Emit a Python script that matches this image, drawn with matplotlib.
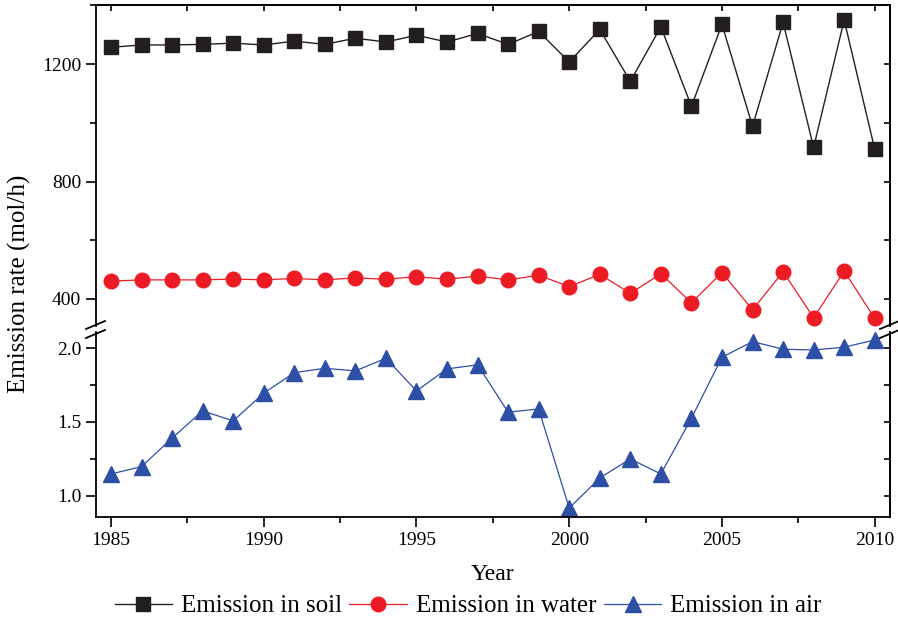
import matplotlib
matplotlib.use("Agg")
import matplotlib.pyplot as plt
from matplotlib.lines import Line2D
from matplotlib.ticker import MultipleLocator
import numpy as np

plt.rcParams['font.family'] = ['Liberation Serif', 'DejaVu Serif']

years = np.arange(1985, 2011)
soil = [1257, 1265, 1265, 1267, 1271, 1265, 1278, 1267, 1288, 1275, 1298, 1275, 1304,
        1267, 1311, 1207, 1318, 1141, 1327, 1056, 1335, 988, 1342, 916, 1350, 910]
water = [461, 465, 465, 465, 468, 465, 470, 465, 472, 467, 476, 467, 478,
         465, 481, 442, 484, 419, 486, 387, 490, 363, 493, 336, 495, 334]
air = [1.147, 1.197, 1.39, 1.575, 1.507, 1.695, 1.834, 1.864, 1.846, 1.932, 1.71, 1.86, 1.887,
       1.566, 1.588, 0.915, 1.12, 1.249, 1.147, 1.525, 1.939, 2.045, 1.993, 1.988, 2.007, 2.056]

c_soil = '#231f20'
c_water = '#ed1c24'
c_air = '#2e4fa6'

W, H = 898, 621
fig = plt.figure(figsize=(W / 100, H / 100), dpi=100)

L, R = 95.7 / W, 890 / W
ax_top = fig.add_axes([L, 1 - 326 / H, R - L, (326 - 5.3) / H])
ax_bot = fig.add_axes([L, 1 - 517.3 / H, R - L, (517.3 - 332) / H])

ax_top.plot(years, soil, '-s', color=c_soil, lw=1.0, ms=9.5, label='Emission in soil')
ax_top.plot(years, water, '-o', color=c_water, lw=0.9, ms=10.5, label='Emission in water')
ax_bot.plot(years, air, '-^', color=c_air, lw=0.9, ms=11, label='Emission in air')

for ax in (ax_top, ax_bot):
    ax.set_xlim(1984.5, 2010.5)
    ax.xaxis.set_major_locator(MultipleLocator(5))
    ax.xaxis.set_minor_locator(MultipleLocator(2.5))
    for s in ax.spines.values():
        s.set_linewidth(1.3)
    ax.tick_params(which='both', direction='out', width=1.2, labelsize=14)
    ax.tick_params(which='major', length=7)
    ax.tick_params(which='minor', length=4)

ax_top.set_ylim(308, 1400)
ax_top.yaxis.set_major_locator(MultipleLocator(400))
ax_top.yaxis.set_minor_locator(MultipleLocator(200))
ax_top.spines['bottom'].set_visible(False)
ax_top.tick_params(axis='x', which='both', bottom=False, labelbottom=False)

ax_bot.set_ylim(0.853, 2.11)
ax_bot.yaxis.set_major_locator(MultipleLocator(0.5))
ax_bot.yaxis.set_minor_locator(MultipleLocator(0.25))
ax_bot.yaxis.set_major_formatter(matplotlib.ticker.FormatStrFormatter('%.1f'))
ax_bot.spines['top'].set_visible(False)

# mirrored inward ticks on the right / top
for ax, ystep in ((ax_top, 200), (ax_bot, 0.25)):
    sec = ax.secondary_yaxis('right')
    sec.yaxis.set_major_locator(MultipleLocator(ystep))
    sec.tick_params(direction='in', length=4, width=1.2, labelright=False)
    sec.spines['right'].set_linewidth(1.3)
secx = ax_top.secondary_xaxis('top')
secx.xaxis.set_major_locator(MultipleLocator(2.5))
secx.tick_params(direction='in', length=4, width=1.2, labeltop=False)
secx.spines['top'].set_linewidth(1.3)

# break marks
for x0 in (86, 880):
    for dy in (0, 9):
        fig.add_artist(Line2D([x0 / W, (x0 + 19) / W],
                              [1 - (329 + dy) / H, 1 - (321 + dy) / H],
                              color='black', lw=1.3))

ax_bot.set_xlabel('Year', fontsize=17, labelpad=11)
fig.text(0.022, 1 - 284 / H, 'Emission rate (mol/h)', rotation=90,
         fontsize=18, ha='center', va='center')

handles = ax_top.get_lines() + ax_bot.get_lines()
fig.legend(handles, [h.get_label() for h in handles], loc='center',
           bbox_to_anchor=(468 / W, 1 - 606 / H), ncol=3, frameon=False,
           fontsize=18, handlelength=2.3, handletextpad=0.35, columnspacing=0.3,
           borderaxespad=0, borderpad=0)

fig.savefig('out.png', dpi=100)
